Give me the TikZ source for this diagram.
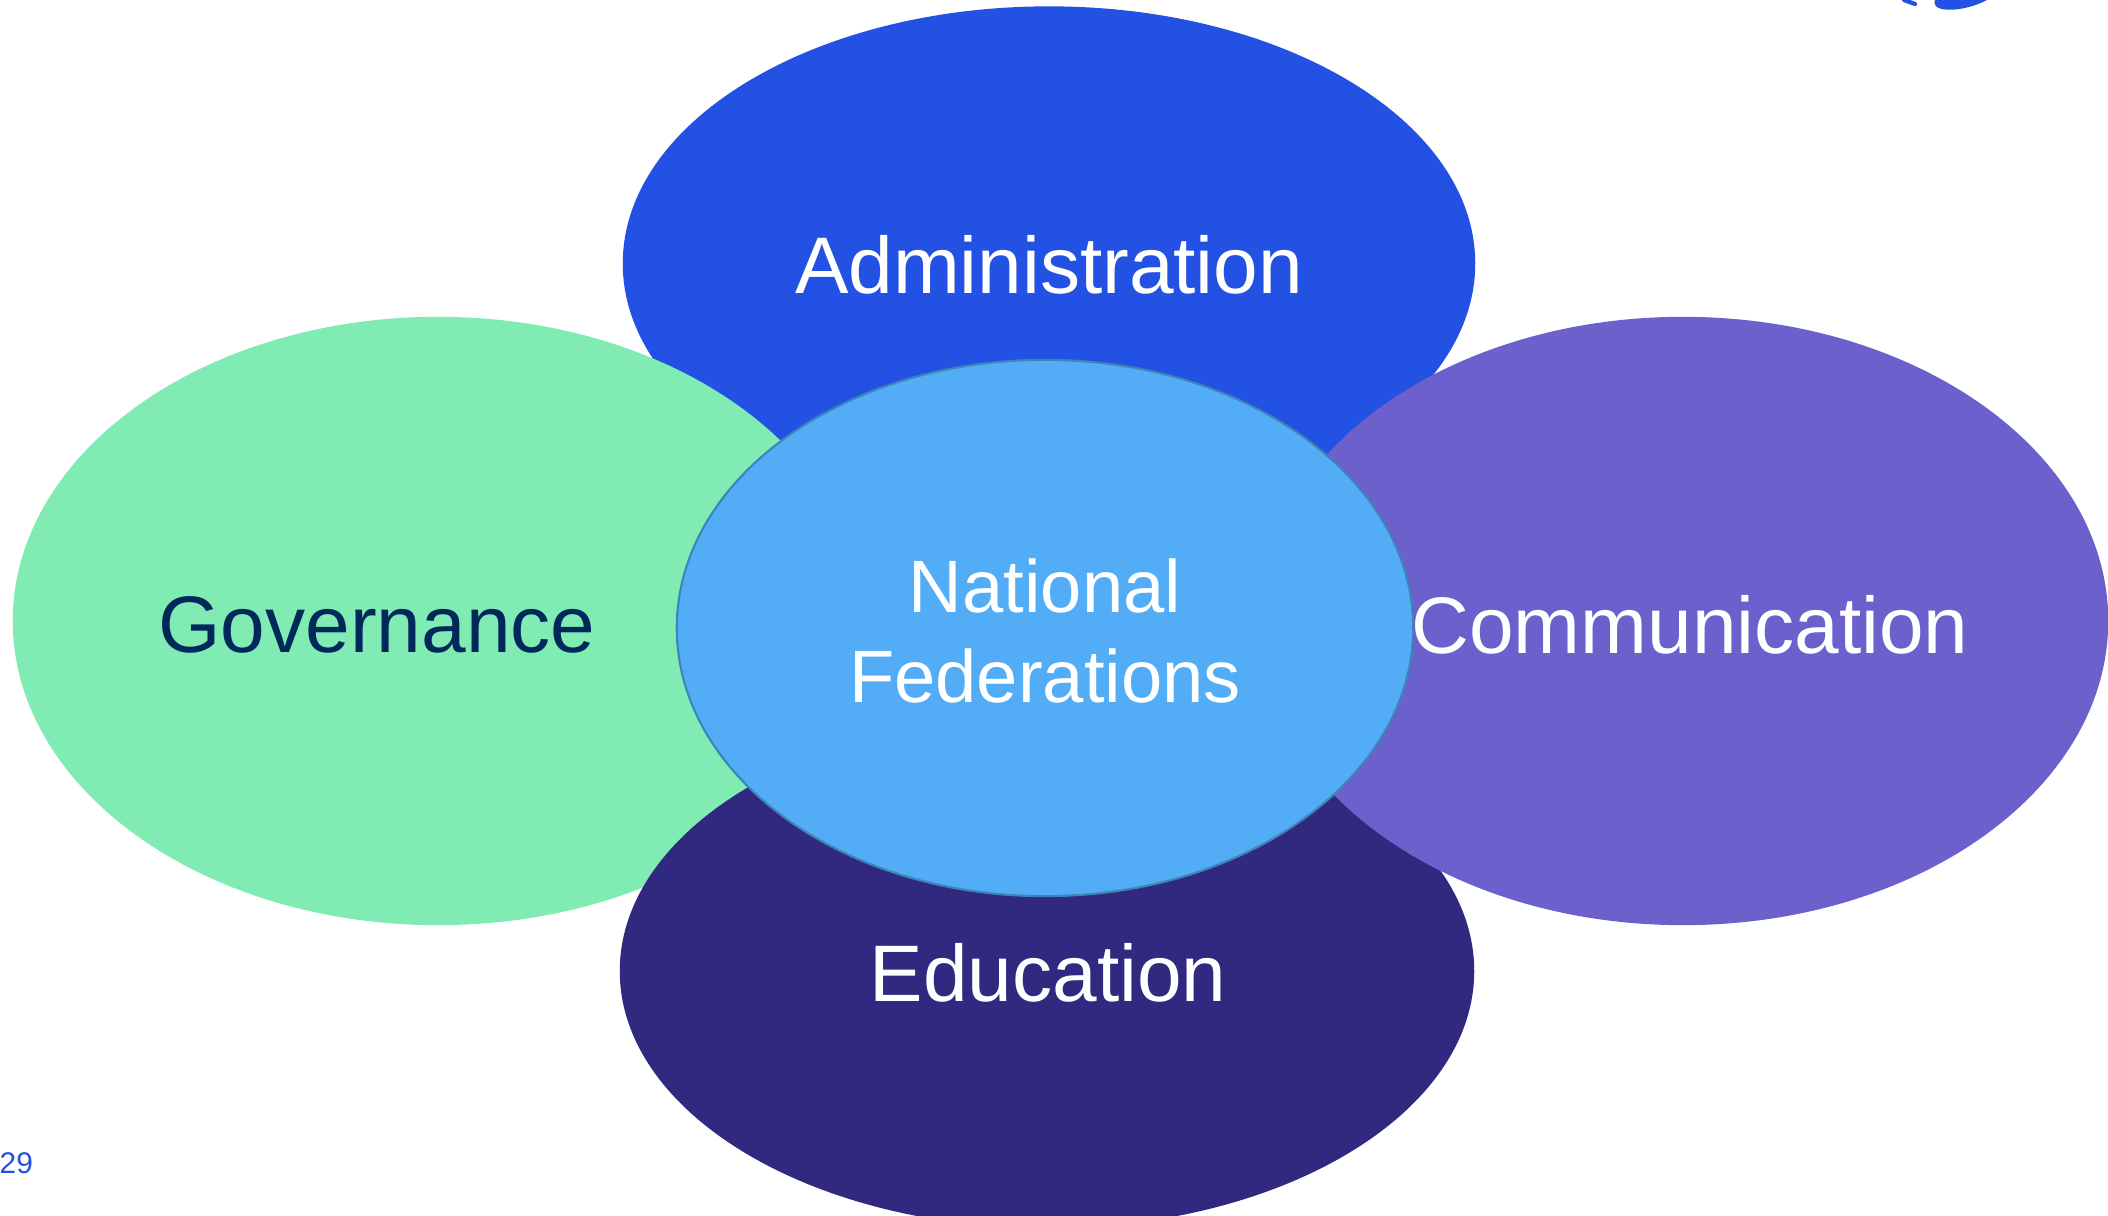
\documentclass[tikz,border=0pt]{standalone}
\usepackage{fontspec}
\setmainfont{Liberation Sans}
\usetikzlibrary{shapes.geometric}
\definecolor{cAdmin}{HTML}{2251E3}
\definecolor{cGov}{HTML}{80ECB4}
\definecolor{cComm}{HTML}{6C60CD}
\definecolor{cEdu}{HTML}{31287F}
\definecolor{cCenter}{HTML}{52ADF6}
\definecolor{cOutline}{HTML}{3D85B8}
\definecolor{cGovText}{HTML}{00285A}
\tikzset{
  blob/.style={ellipse, inner sep=0pt, outer sep=0pt},
  lbl/.style={inner sep=0pt, font=\fontsize{22.8}{25.6}\selectfont, text=white},
  clbl/.style={inner sep=0pt, font=\fontsize{21.1}{25.6}\selectfont, text=white, align=center},
}
\begin{document}
\begin{tikzpicture}[x=0.01cm, y=-0.01cm]
\useasboundingbox[fill=white] (0,0) rectangle (2108,1216);
\begin{scope}
\clip (0,0) rectangle (2108,1216);
\node[blob, fill=cAdmin, minimum width=8.52cm, minimum height=5.14cm] (admin) at (1049,263.5) {};
\node[blob, fill=cGov, minimum width=8.50cm, minimum height=6.08cm] (gov) at (438,621) {};
\node[blob, fill=cEdu, minimum width=8.54cm, minimum height=5.14cm] (edu) at (1047,971) {};
\node[blob, fill=cComm, minimum width=8.50cm, minimum height=6.08cm] (comm) at (1683,621) {};
\node[blob, fill=cCenter, draw=cOutline, line width=0.6pt, minimum width=7.36cm, minimum height=5.36cm] (center) at (1045,628) {};
\fill[cAdmin] (1935,0) .. controls (1930,14) and (1965,12) .. (1987,0) -- cycle;
\draw[cAdmin, line width=1.2pt, line cap=round] (1904,0) -- (1915,4);
\end{scope}
\node[lbl] (tadmin) at (1049,264.5) {Administration};
\node[lbl, text=cGovText] (tgov) at (377,624.5) {Governance};
\node[lbl] (tcomm) at (1690,624.5) {Communication};
\node[lbl] (tedu) at (1048,972.5) {Education};
\node[clbl] (tcenter) at (1045,630.5) {National\\Federations};
\node[inner sep=0pt, anchor=south west, text=cAdmin, font=\fontsize{8.5}{10}\selectfont] (pnum) at (-1,1174) {29};
\end{tikzpicture}
\end{document}
